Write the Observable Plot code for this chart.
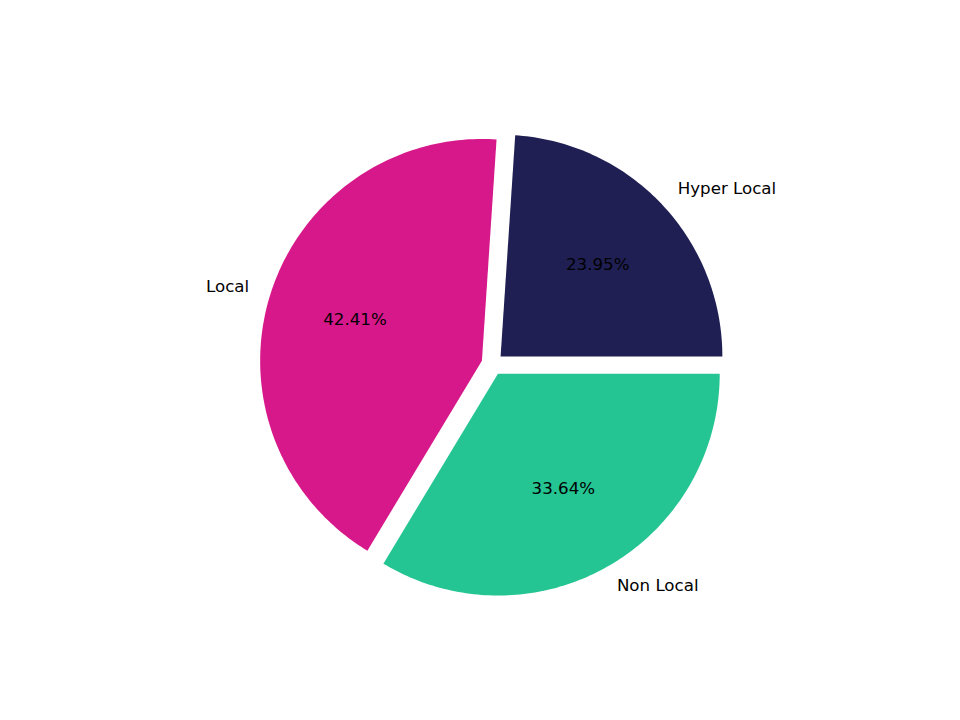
<!DOCTYPE html>
<html>
<head>
<meta charset="utf-8">
<script src="https://cdn.jsdelivr.net/npm/d3@7"></script>
<script src="https://cdn.jsdelivr.net/npm/@observablehq/plot@0.6"></script>
<style>
  html, body { margin: 0; padding: 0; background: #fff; }
  #chart { width: 960px; height: 720px; }
</style>
</head>
<body>
<div id="chart"></div>
<script>
const categories = ["Hyper Local", "Local", "Non Local"];
const values = [23.95, 42.41, 33.64];
const colors = ["#1f1f53", "#d7188a", "#24c592"];
const explode = [0.05, 0.05, 0.05];

const total = d3.sum(values);
const wedgePts = [];
const labels = [];
let start = 0; // degrees, counterclockwise from +x
categories.forEach((c, i) => {
  const span = values[i] / total * 360;
  const end = start + span;
  const mid = (start + end) / 2 * Math.PI / 180;
  const ox = explode[i] * Math.cos(mid), oy = explode[i] * Math.sin(mid);
  wedgePts.push({cat: c, x: ox, y: oy});
  const n = Math.max(2, Math.ceil(span));
  for (let k = 0; k <= n; k++) {
    const a = (start + span * k / n) * Math.PI / 180;
    wedgePts.push({cat: c, x: ox + Math.cos(a), y: oy + Math.sin(a)});
  }
  wedgePts.push({cat: c, x: ox, y: oy});
  const lx = ox + 1.1 * Math.cos(mid), ly = oy + 1.1 * Math.sin(mid);
  const px = ox + 0.6 * Math.cos(mid), py = oy + 0.6 * Math.sin(mid);
  labels.push({cat: c, lx, ly, px, py, pct: (values[i] / total * 100).toFixed(2) + "%", anchor: lx > 0 ? "start" : "end"});
  start = end;
});

const chart = Plot.plot({
  width: 960,
  height: 720,
  marginLeft: 214.8,
  marginRight: 190.8,
  marginTop: 86.4,
  marginBottom: 79.2,
  x: {domain: [-1.25, 1.25], axis: null},
  y: {domain: [-1.25, 1.25], axis: null},
  color: {domain: categories, range: colors},
  style: {fontFamily: "DejaVu Sans, sans-serif", fontSize: "16.67px"},
  marks: [
    Plot.line(wedgePts, {x: "x", y: "y", z: "cat", fill: "cat", stroke: "none", curve: "linear"}),
    Plot.text(labels.filter(d => d.anchor === "start"), {x: "lx", y: "ly", text: "cat", textAnchor: "start", fontSize: 16.67, fill: "black", dx: -1, dy: -1}),
    Plot.text(labels.filter(d => d.anchor === "end"), {x: "lx", y: "ly", text: "cat", textAnchor: "end", fontSize: 16.67, fill: "black", dy: -1}),
    Plot.text(labels, {x: "px", y: "py", text: "pct", textAnchor: "middle", fontSize: 16.67, fill: "black", dy: -1})
  ]
});
document.getElementById("chart").appendChild(chart);
</script>
</body>
</html>
